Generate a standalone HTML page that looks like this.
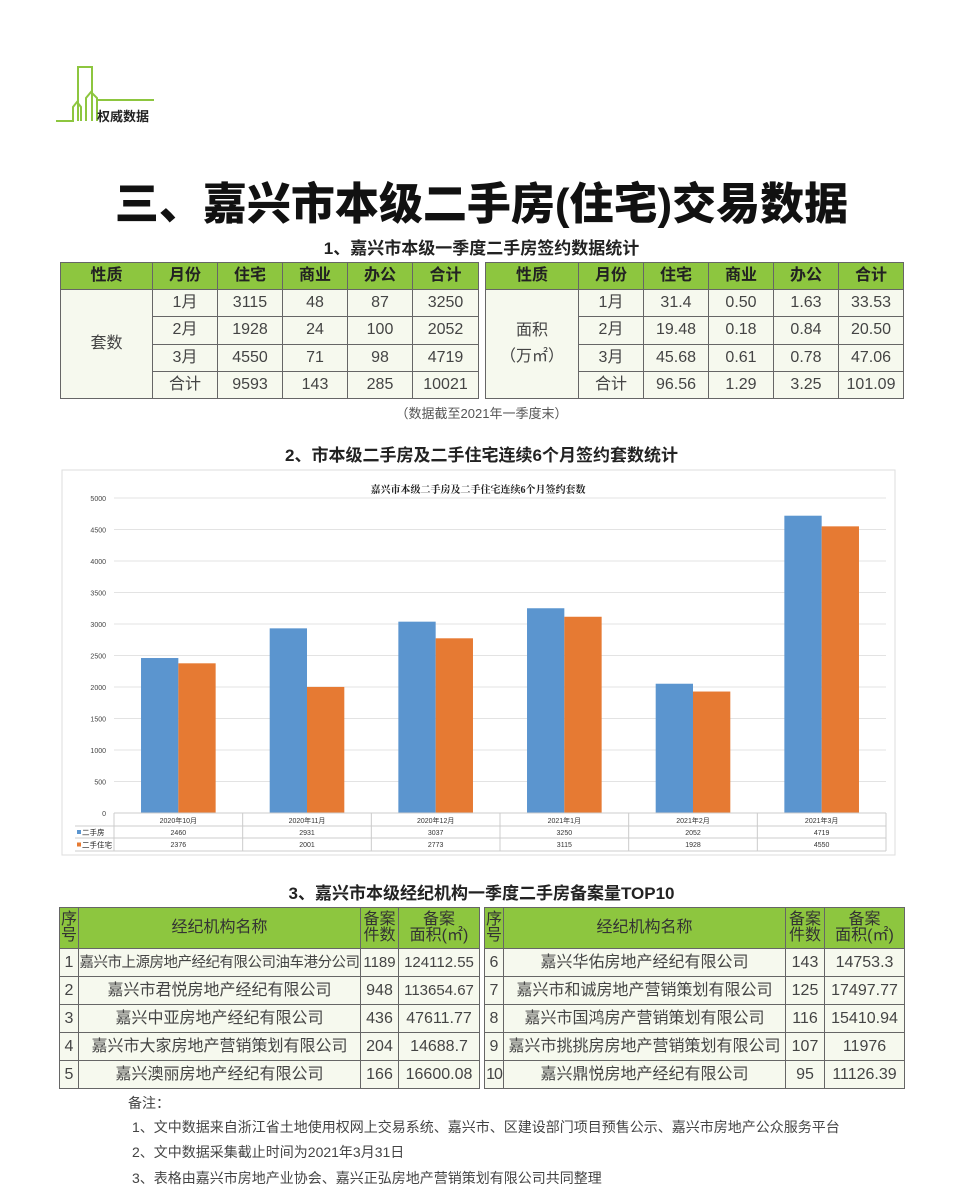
<!DOCTYPE html>
<html><head><meta charset="utf-8">
<style>
body{margin:0;background:#fff;}
#page{position:relative;width:963px;height:1200px;overflow:hidden;background:#fff;font-family:"Liberation Sans","Noto Sans CJK SC",sans-serif;color:#333;}
.abs{position:absolute;}
table{border-collapse:collapse;position:absolute;table-layout:fixed;}
td{border:1px solid #666;text-align:center;vertical-align:middle;padding:0;font-size:16px;line-height:18px;color:#444;background:#f6f9ee;overflow:hidden;white-space:nowrap;}
td.h{background:#8dc63f;color:#222;font-weight:bold;}
.t3 td.h{font-weight:normal;color:#333;line-height:16px;}
.sub{position:absolute;left:0;width:963px;text-align:center;font-weight:bold;color:#222;}
.note{position:absolute;font-size:14px;color:#444;}
</style></head><body>
<div id="page">
<svg class="abs" style="left:50px;top:62px" width="110" height="62">
<g fill="none" stroke="#8dc63f" stroke-width="2">
<polyline points="6,59 23,59 23,45 27,40 31,45 31,59"/>
<polyline points="28,59 28,5 42,5 42,59"/>
<polyline points="36,59 36,36 41,30 47,36 47,59"/>
<polyline points="48,38 104,38"/>
</g></svg>
<div class="abs" style="left:97px;top:106px;font-size:13px;font-weight:bold;color:#222">权威数据</div>
<div class="sub" style="top:168px;font-size:44px;font-weight:900;color:#111">三、嘉兴市本级二手房(住宅)交易数据</div>
<div class="sub" style="top:234px;font-size:17px">1、嘉兴市本级一季度二手房签约数据统计</div>

<table style="left:60px;top:262px;width:419px;height:137px">
<colgroup><col style="width:92px"><col style="width:65px"><col style="width:65px"><col style="width:65px"><col style="width:65px"><col style="width:66px"></colgroup>
<tr style="height:27px"><td class="h">性质</td><td class="h">月份</td><td class="h">住宅</td><td class="h">商业</td><td class="h">办公</td><td class="h">合计</td></tr>
<tr style="height:27px"><td rowspan="4">套数</td><td>1月</td><td>3115</td><td>48</td><td>87</td><td>3250</td></tr>
<tr style="height:27px"><td>2月</td><td>1928</td><td>24</td><td>100</td><td>2052</td></tr>
<tr style="height:27px"><td>3月</td><td>4550</td><td>71</td><td>98</td><td>4719</td></tr>
<tr style="height:27px"><td>合计</td><td>9593</td><td>143</td><td>285</td><td>10021</td></tr>
</table>
<table style="left:485px;top:262px;width:418px;height:137px">
<colgroup><col style="width:93px"><col style="width:65px"><col style="width:65px"><col style="width:65px"><col style="width:65px"><col style="width:65px"></colgroup>
<tr style="height:27px"><td class="h">性质</td><td class="h">月份</td><td class="h">住宅</td><td class="h">商业</td><td class="h">办公</td><td class="h">合计</td></tr>
<tr style="height:27px"><td rowspan="4" style="line-height:26px">面积<br>（万㎡）</td><td>1月</td><td>31.4</td><td>0.50</td><td>1.63</td><td>33.53</td></tr>
<tr style="height:27px"><td>2月</td><td>19.48</td><td>0.18</td><td>0.84</td><td>20.50</td></tr>
<tr style="height:27px"><td>3月</td><td>45.68</td><td>0.61</td><td>0.78</td><td>47.06</td></tr>
<tr style="height:27px"><td>合计</td><td>96.56</td><td>1.29</td><td>3.25</td><td>101.09</td></tr>
</table>
<div class="sub" style="top:403px;font-size:13px;font-weight:normal;color:#555">（数据截至2021年一季度末）</div>
<div class="sub" style="top:441px;font-size:17px">2、市本级二手房及二手住宅连续6个月签约套数统计</div>

<svg id="chart" class="abs" style="left:0;top:0" width="963" height="870"></svg>

<div class="sub" style="top:879px;font-size:17px">3、嘉兴市本级经纪机构一季度二手房备案量TOP10</div>
<table class="t3" style="left:59px;top:907px;width:420px;height:181px">
<colgroup><col style="width:19px"><col style="width:282px"><col style="width:38px"><col style="width:81px"></colgroup>
<tr style="height:41px"><td class="h">序<br>号</td><td class="h">经纪机构名称</td><td class="h">备案<br>件数</td><td class="h">备案<br>面积(㎡)</td></tr>
<tr style="height:28px"><td>1</td><td style="font-size:14.5px;letter-spacing:-0.5px">嘉兴市上源房地产经纪有限公司油车港分公司</td><td style="font-size:15px">1189</td><td style="font-size:15px">124112.55</td></tr>
<tr style="height:28px"><td>2</td><td>嘉兴市君悦房地产经纪有限公司</td><td>948</td><td style="font-size:15px">113654.67</td></tr>
<tr style="height:28px"><td>3</td><td>嘉兴中亚房地产经纪有限公司</td><td>436</td><td>47611.77</td></tr>
<tr style="height:28px"><td>4</td><td>嘉兴市大家房地产营销策划有限公司</td><td>204</td><td>14688.7</td></tr>
<tr style="height:28px"><td>5</td><td>嘉兴澳丽房地产经纪有限公司</td><td>166</td><td>16600.08</td></tr>
</table>
<table class="t3" style="left:484px;top:907px;width:420px;height:181px">
<colgroup><col style="width:19px"><col style="width:282px"><col style="width:39px"><col style="width:80px"></colgroup>
<tr style="height:41px"><td class="h">序<br>号</td><td class="h">经纪机构名称</td><td class="h">备案<br>件数</td><td class="h">备案<br>面积(㎡)</td></tr>
<tr style="height:28px"><td>6</td><td>嘉兴华佑房地产经纪有限公司</td><td>143</td><td>14753.3</td></tr>
<tr style="height:28px"><td>7</td><td>嘉兴市和诚房地产营销策划有限公司</td><td>125</td><td>17497.77</td></tr>
<tr style="height:28px"><td>8</td><td>嘉兴市国鸿房产营销策划有限公司</td><td>116</td><td>15410.94</td></tr>
<tr style="height:28px"><td>9</td><td>嘉兴市挑挑房房地产营销策划有限公司</td><td>107</td><td>11976</td></tr>
<tr style="height:28px"><td style="letter-spacing:-1px">10</td><td>嘉兴鼎悦房地产经纪有限公司</td><td>95</td><td>11126.39</td></tr>
</table>
<div class="note" style="left:128px;top:1093px">备注：</div>
<div class="note" style="left:132px;top:1117px">1、文中数据来自浙江省土地使用权网上交易系统、嘉兴市、区建设部门项目预售公示、嘉兴市房地产公众服务平台</div>
<div class="note" style="left:132px;top:1142px">2、文中数据采集截止时间为2021年3月31日</div>
<div class="note" style="left:132px;top:1168px">3、表格由嘉兴市房地产业协会、嘉兴正弘房地产营销策划有限公司共同整理</div>
</div>
<script>
const categories=["2020年10月","2020年11月","2020年12月","2021年1月","2021年2月","2021年3月"];
const seriesNames=["二手房","二手住宅"];
const seriesA=[2460,2931,3037,3250,2052,4719];
const seriesB=[2376,2001,2773,3115,1928,4550];
const yTicks=[0,500,1000,1500,2000,2500,3000,3500,4000,4500,5000];
const colors=["#5b95cf","#e67a33"];
const svg=document.getElementById('chart');
const NS='http://www.w3.org/2000/svg';
const X0=114,X1=886,Y0=813,Y1=498,YMAX=5000;
const bw=(X1-X0)/categories.length;
function y(v){return Y0-(v/YMAX)*(Y0-Y1);}
function x(i){return X0+i*bw;}
function mk(t,a,txt){const e=document.createElementNS(NS,t);for(const k in a)e.setAttribute(k,a[k]);if(txt!==undefined)e.textContent=txt;svg.appendChild(e);return e;}
let e=mk('rect',{x:62,y:470,width:833,height:385,fill:'#fff',stroke:'#ddd'});


e=mk('text',{x:478,y:493,'text-anchor':'middle','font-size':'10','font-weight':'bold',fill:'#222','font-family':'"Liberation Serif","Noto Serif CJK SC",serif'},'嘉兴市本级二手房及二手住宅连续6个月签约套数');


yTicks.forEach(v=>{
 const l=mk('line',{x1:X0,x2:X1,y1:y(v),y2:y(v),stroke:'#e3e3e3'});
 
 
 const t=mk('text',{x:106,y:y(v)+3,'text-anchor':'end','font-size':'7',fill:'#444'},v);
 
 
});
const bwid=bw*0.29;
categories.forEach((c,i)=>{
 const cx=x(i)+bw/2;
 const a=mk('rect',{x:cx-bwid,y:y(seriesA[i]),width:bwid,height:Y0-y(seriesA[i]),fill:colors[0]});
 
 
 const b=mk('rect',{x:cx,y:y(seriesB[i]),width:bwid,height:Y0-y(seriesB[i]),fill:colors[1]});
 
 
 const t=mk('text',{x:cx,y:823,'text-anchor':'middle','font-size':'7',fill:'#333'},c);
 
 
 const v1=mk('text',{x:cx,y:835,'text-anchor':'middle','font-size':'7',fill:'#333'},seriesA[i]);
 
 
 const v2=mk('text',{x:cx,y:847,'text-anchor':'middle','font-size':'7',fill:'#333'},seriesB[i]);
 
 
});
[813,826,838,851].forEach((yy,k)=>{const l=mk('line',{x1:k==0?X0:75,x2:X1,y1:yy,y2:yy,stroke:'#ccc'});});
for(let i=0;i<=categories.length;i++){const l=mk('line',{x1:x(i),x2:x(i),y1:813,y2:851,stroke:'#ccc'});}
seriesNames.forEach((n,k)=>{
 const yy=826+k*12.5;
 const r=mk('rect',{x:77,y:yy+4,width:4,height:4,fill:colors[k]});
 
 
 const t=mk('text',{x:82,y:yy+9,'font-size':'7.5',fill:'#222'},n);
 
 
});
</script>
</body></html>
